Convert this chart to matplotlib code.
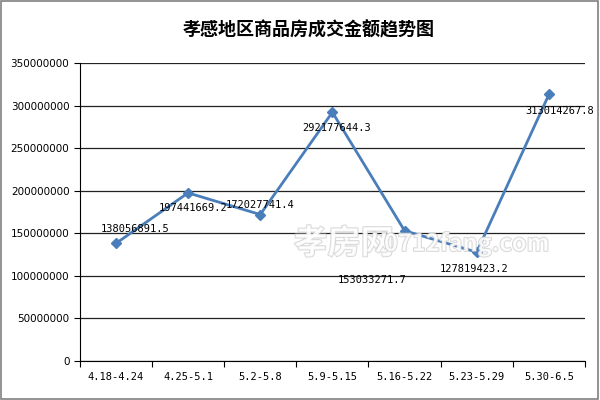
import numpy as np
import matplotlib.pyplot as plt
import matplotlib.patheffects as pe
from matplotlib.patches import Rectangle

plt.rcParams['font.family'] = ['Noto Sans CJK SC', 'DejaVu Sans']

weeks = ['4.18-4.24', '4.25-5.1', '5.2-5.8', '5.9-5.15', '5.16-5.22', '5.23-5.29', '5.30-6.5']
amounts = [138056891.5, 197441669.2, 172027741.4, 292177644.3, 153033271.7, 127819423.2, 313014267.8]
# label offsets in pixels from each point
label_offsets = [(19, 14), (5, -15), (0, 10), (4, -16), (-32, -49), (-3, -17), (11, -17)]

fig = plt.figure(figsize=(6, 4), dpi=100)
ax = fig.add_axes([0.133, 0.0975, 0.842, 0.745])

x = np.arange(len(weeks))
ax.plot(x, amounts, color='#4a7ebb', lw=2, marker='D', ms=5.5, zorder=3)

for xi, v, (dx, dy) in zip(x, amounts, label_offsets):
    ax.annotate(f'{v:.1f}', (xi, v), xytext=(dx, dy), textcoords='offset pixels',
                ha='center', va='center', fontsize=7.5, family='DejaVu Sans Mono', zorder=4)

ax.set_xlim(-0.5, len(weeks) - 0.5)
ax.set_ylim(0, 350000000)
ax.set_yticks(np.arange(0, 350000001, 50000000))
ax.set_yticklabels([f'{int(t)}' for t in ax.get_yticks()], fontsize=7.5, family='DejaVu Sans')
ax.yaxis.grid(True, color='#222222', lw=0.9)
ax.set_axisbelow(True)

ax.set_xticks(np.arange(-0.5, len(weeks)))
ax.set_xticklabels([])
ax.set_xticks(x, minor=True)
ax.set_xticklabels(weeks, minor=True, fontsize=7.5, family='DejaVu Sans Mono')
ax.tick_params(axis='x', which='minor', length=0, pad=8)
ax.tick_params(axis='both', which='major', direction='out', length=4, color='black')

for s in ['top', 'right']:
    ax.spines[s].set_visible(False)
for s in ['left', 'bottom']:
    ax.spines[s].set_color('black')

fig.text(0.515, 0.925, '孝感地区商品房成交金额趋势图', ha='center', va='center',
         fontsize=13, fontweight='bold')

# watermark
wm = [pe.Stroke(linewidth=1.2, foreground='#c8c8c8'), pe.Normal()]
fig.text(0.49, 0.39, '孝房网', color='white', fontsize=24, fontweight='bold',
         ha='left', va='center', alpha=0.75, path_effects=wm)
fig.text(0.64, 0.39, '0712fang.com', color='white', fontsize=17, fontweight='bold',
         ha='left', va='center', alpha=0.75, path_effects=wm)

fig.patches.append(Rectangle((0.002, 0.003), 0.995, 0.994, transform=fig.transFigure,
                             fill=False, edgecolor='#808080', lw=1.2))

fig.savefig('out.png', dpi=100)
